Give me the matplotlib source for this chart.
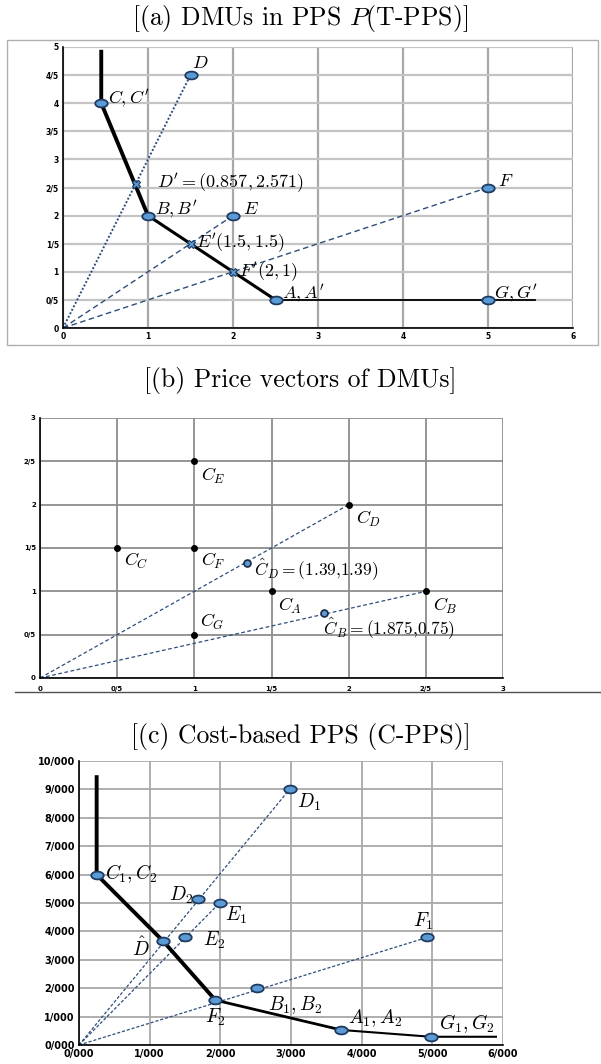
import numpy as np
import matplotlib
matplotlib.use("Agg")
import matplotlib.pyplot as plt
from matplotlib.path import Path
from matplotlib.patches import Rectangle
from matplotlib.lines import Line2D

plt.rcParams['mathtext.fontset'] = 'cm'

# ---------------- data ----------------
# (a) technical PPS
a_front_x = [0.45, 0.45, 1.0, 2.5, 5.55]
a_front_y = [4.95, 4.0, 2.0, 0.5, 0.5]
a_pts_x = [0.45, 1.0, 2.5, 5.0, 1.5, 2.0, 5.0]
a_pts_y = [4.0, 2.0, 0.5, 0.5, 4.5, 2.0, 2.5]
a_pts_lab = ["$C, C'$", "$B, B'$", "$A, A'$", "$G, G'$", "$D$", "$E$", "$F$"]
a_proj_x = [0.857, 1.5, 2.0]
a_proj_y = [2.571, 1.5, 1.0]
a_proj_lab = ["$D' = (0.857, 2.571)$", "$E'(1.5,1.5)$", "$F'(2,1)$"]
a_ticks_x = [0, 1, 2, 3, 4, 5, 6]
a_ticks_y = [0, 0.5, 1, 1.5, 2, 2.5, 3, 3.5, 4, 4.5, 5]
a_ylabels = ["0", "0/5", "1", "1/5", "2", "2/5", "3", "3/5", "4", "4/5", "5"]

# (b) price vectors
b_pts_x = [1.0, 2.0, 0.5, 1.0, 1.5, 2.5, 1.0]
b_pts_y = [2.5, 2.0, 1.5, 1.5, 1.0, 1.0, 0.5]
b_pts_lab = ["$C_E$", "$C_D$", "$C_C$", "$C_F$", "$C_A$", "$C_B$", "$C_G$"]
b_hat_x = [1.34, 1.84]
b_hat_y = [1.33, 0.75]
b_hat_lab = [r"$\hat{C}_D = (1.39{,}1.39)$", r"$\hat{C}_B = (1.875{,}0.75)$"]
b_ticks = [0, 0.5, 1, 1.5, 2, 2.5, 3]
b_labels = ["0", "0/5", "1", "1/5", "2", "2/5", "3"]

# (c) cost-based PPS
c_front_x = [250, 250, 1190, 1930, 3710, 4980, 5900]
c_front_y = [9500, 6000, 3660, 1580, 530, 290, 290]
c_pts_x = [250, 1190, 1930, 3710, 4980, 2980, 1690, 1990, 1500, 4930, 2520]
c_pts_y = [6000, 3660, 1580, 530, 290, 9000, 5140, 5000, 3790, 3790, 2000]
c_pts_lab = ["$C_1, C_2$", r"$\hat{D}$", "$F_2$", "$A_1, A_2$", "$G_1, G_2$",
             "$D_1$", "$D_2$", "$E_1$", "$E_2$", "$F_1$", "$B_1, B_2$"]
c_rays_x = [2980, 1990, 4930]
c_rays_y = [9000, 5000, 3790]
c_ticks_x = [0, 1000, 2000, 3000, 4000, 5000, 6000]
c_ticks_y = [0, 1000, 2000, 3000, 4000, 5000, 6000, 7000, 8000, 9000, 10000]
c_xlabels = ["0/000", "1/000", "2/000", "3/000", "4/000", "5/000", "6/000"]
c_ylabels = ["0/000", "1/000", "2/000", "3/000", "4/000", "5/000", "6/000",
             "7/000", "8/000", "9/000", "10/000"]

# ---------------- style ----------------
W, H = 601, 1064
fig = plt.figure(figsize=(W / 100, H / 100), dpi=100)

def fx(px):
    return px / W

def fy(py):
    return 1 - py / H

def ax_at(x0, y0, x1, y1):
    return fig.add_axes([fx(x0), fy(y1), fx(x1) - fx(x0), fy(y0) - fy(y1)])

t = np.linspace(0, 2 * np.pi, 40)
ELL = Path(np.column_stack([1.6 * np.cos(t), np.sin(t)]), closed=True)

FILL = "#5b9bd5"
EDGE = "#1f3a60"
RAY = "#2e4d7b"

def style_axes(ax, gridcol, gridlw, fs):
    ax.grid(True, color=gridcol, lw=gridlw)
    ax.set_axisbelow(True)
    for s in ["top", "right"]:
        ax.spines[s].set_visible(False)
    for s in ["left", "bottom"]:
        ax.spines[s].set_color("black")
        ax.spines[s].set_linewidth(1.2)
    ax.tick_params(length=0, pad=3)
    for lab in ax.get_xticklabels() + ax.get_yticklabels():
        lab.set_fontweight("bold")
        lab.set_fontsize(fs)
        lab.set_fontfamily("DejaVu Sans")

TFS = 18.5
fig.text(0.5, fy(18), "[(a) DMUs in PPS $P$(T-PPS)]", ha="center", va="center",
         fontsize=TFS, family="cmr10")
fig.text(0.5, fy(381), "[(b) Price vectors of DMUs]", ha="center", va="center",
         fontsize=TFS, family="cmr10")
fig.text(0.5, fy(737), "[(c) Cost-based PPS (C-PPS)]", ha="center", va="center",
         fontsize=TFS, family="cmr10")

# outer frame of (a)
fig.add_artist(Rectangle((fx(7), fy(345)), fx(598) - fx(7), fy(40) - fy(345),
                         transform=fig.transFigure, fill=False, ec="#b0b0b0", lw=1.0))
# bottom frame line of (b)
fig.add_artist(Line2D([fx(15), fx(600)], [fy(692), fy(692)], transform=fig.transFigure,
                      color="#505050", lw=1.0))

# ---------------- (a) ----------------
LFS = 13
ax = ax_at(63, 47, 573, 328)
ax.set_xlim(0, 6)
ax.set_ylim(0, 5)
ax.set_xticks(a_ticks_x)
ax.set_yticks(a_ticks_y)
ax.set_yticklabels(a_ylabels)
style_axes(ax, "#c4c4c4", 1.6, 5.5)
for gl in ax.get_xgridlines():
    gl.set_color("#a8a8a8")
# rays
ax.plot([0, a_pts_x[4]], [0, a_pts_y[4]], color=RAY, lw=1.4, ls=(0, (1, 1)))
ax.plot([0, a_pts_x[5]], [0, a_pts_y[5]], color=RAY, lw=1.0, ls=(0, (4, 2.5)))
ax.plot([0, a_pts_x[6]], [0, a_pts_y[6]], color=RAY, lw=1.0, ls=(0, (4, 2.5)))
ax.plot(a_front_x[:3], a_front_y[:3], color="black", lw=2.8, solid_joinstyle="round",
        solid_capstyle="butt", zorder=3)
ax.plot(a_front_x[2:4], a_front_y[2:4], color="black", lw=2.2, solid_capstyle="round", zorder=3)
ax.plot(a_front_x[3:], a_front_y[3:], color="black", lw=1.3, zorder=3)
ax.plot(a_pts_x, a_pts_y, ls="none", marker=ELL, ms=9, mfc=FILL, mec=EDGE, mew=1.3, zorder=4)
ax.plot(a_proj_x, a_proj_y, ls="none", marker="X", ms=6, mfc=FILL, mec=EDGE, mew=0.8, zorder=4)
a_off = [(5, 4, "left", "center"), (5, 5, "left", "center"), (5, 5, "left", "center"),
         (4, 5, "left", "center"), (1, 2, "left", "bottom"), (7, 5, "left", "center"),
         (7, 5, "left", "center")]
for x, y, s, (dx, dy, ha, va) in zip(a_pts_x, a_pts_y, a_pts_lab, a_off):
    ax.annotate(s, (x, y), xytext=(dx, dy), textcoords="offset points",
                ha=ha, va=va, fontsize=LFS, zorder=5)
a_poff = [(15, 0), (4, 0), (4, 0)]
for x, y, s, (dx, dy) in zip(a_proj_x, a_proj_y, a_proj_lab, a_poff):
    ax.annotate(s, (x, y), xytext=(dx, dy), textcoords="offset points",
                ha="left", va="center", fontsize=LFS, zorder=5)

# ---------------- (b) ----------------
LFS = 13
ax = ax_at(40, 418, 503, 678)
ax.set_xlim(0, 3)
ax.set_ylim(0, 3)
ax.set_xticks(b_ticks)
ax.set_xticklabels(b_labels)
ax.set_yticks(b_ticks)
ax.set_yticklabels(b_labels)
style_axes(ax, "#8c8c8c", 1.3, 5)
ax.tick_params(axis="x", pad=6)
ax.plot([0, b_pts_x[1]], [0, b_pts_y[1]], color=RAY, lw=0.9, ls=(0, (3, 2)))
ax.plot([0, b_pts_x[5]], [0, b_pts_y[5]], color=RAY, lw=0.9, ls=(0, (3, 2)))
ax.plot(b_pts_x, b_pts_y, ls="none", marker="o", ms=4, color="black", zorder=4)
ax.plot(b_hat_x, b_hat_y, ls="none", marker="o", ms=5, mfc=FILL, mec="#1a2a40", mew=1.2, zorder=4)
b_off = [(5, -3, "top"), (5, -3, "top"), (5, -2, "top"), (5, -2, "top"),
         (5, -3, "top"), (5, -3, "top"), (4, 2, "bottom")]
for x, y, s, (dx, dy, va) in zip(b_pts_x, b_pts_y, b_pts_lab, b_off):
    ax.annotate(s, (x, y), xytext=(dx, dy), textcoords="offset points",
                ha="left", va=va, fontsize=LFS, zorder=5)
b_hoff = [(5, -5, "center"), (-1, -2, "top")]
for x, y, s, (dx, dy, va) in zip(b_hat_x, b_hat_y, b_hat_lab, b_hoff):
    ax.annotate(s, (x, y), xytext=(dx, dy), textcoords="offset points",
                ha="left", va=va, fontsize=LFS - 0.5, zorder=5)

# ---------------- (c) ----------------
LFS = 14
ax = ax_at(79, 761, 503, 1045)
ax.set_xlim(0, 6000)
ax.set_ylim(0, 10000)
ax.set_xticks(c_ticks_x)
ax.set_xticklabels(c_xlabels)
ax.set_yticks(c_ticks_y)
ax.set_yticklabels(c_ylabels)
style_axes(ax, "#a8a8a8", 1.3, 7)
for rx, ry in zip(c_rays_x, c_rays_y):
    ax.plot([0, rx], [0, ry], color=RAY, lw=0.9, ls=(0, (2.5, 1.5)))
ax.plot(c_front_x[:4], c_front_y[:4], color="black", lw=2.8, solid_joinstyle="round",
        solid_capstyle="butt", zorder=3)
ax.plot(c_front_x[3:5], c_front_y[3:5], color="black", lw=2.0, solid_capstyle="round", zorder=3)
ax.plot(c_front_x[4:], c_front_y[4:], color="black", lw=1.5, zorder=3)
ax.plot(c_pts_x, c_pts_y, ls="none", marker=ELL, ms=9, mfc=FILL, mec=EDGE, mew=1.3, zorder=4)
c_off = [(6, 1, "left", "center"), (-10, -5, "right", "center"), (0, -5, "center", "top"),
         (5, 1, "left", "bottom"), (6, 1, "left", "bottom"), (5, -2, "left", "top"),
         (-4, 3, "right", "center"), (4, -1, "left", "top"), (13, -2, "left", "center"),
         (-3, 4, "center", "bottom"), (8, -4, "left", "top")]
for x, y, s, (dx, dy, ha, va) in zip(c_pts_x, c_pts_y, c_pts_lab, c_off):
    ax.annotate(s, (x, y), xytext=(dx, dy), textcoords="offset points",
                ha=ha, va=va, fontsize=LFS, zorder=5)

fig.savefig("out.png", dpi=100)
